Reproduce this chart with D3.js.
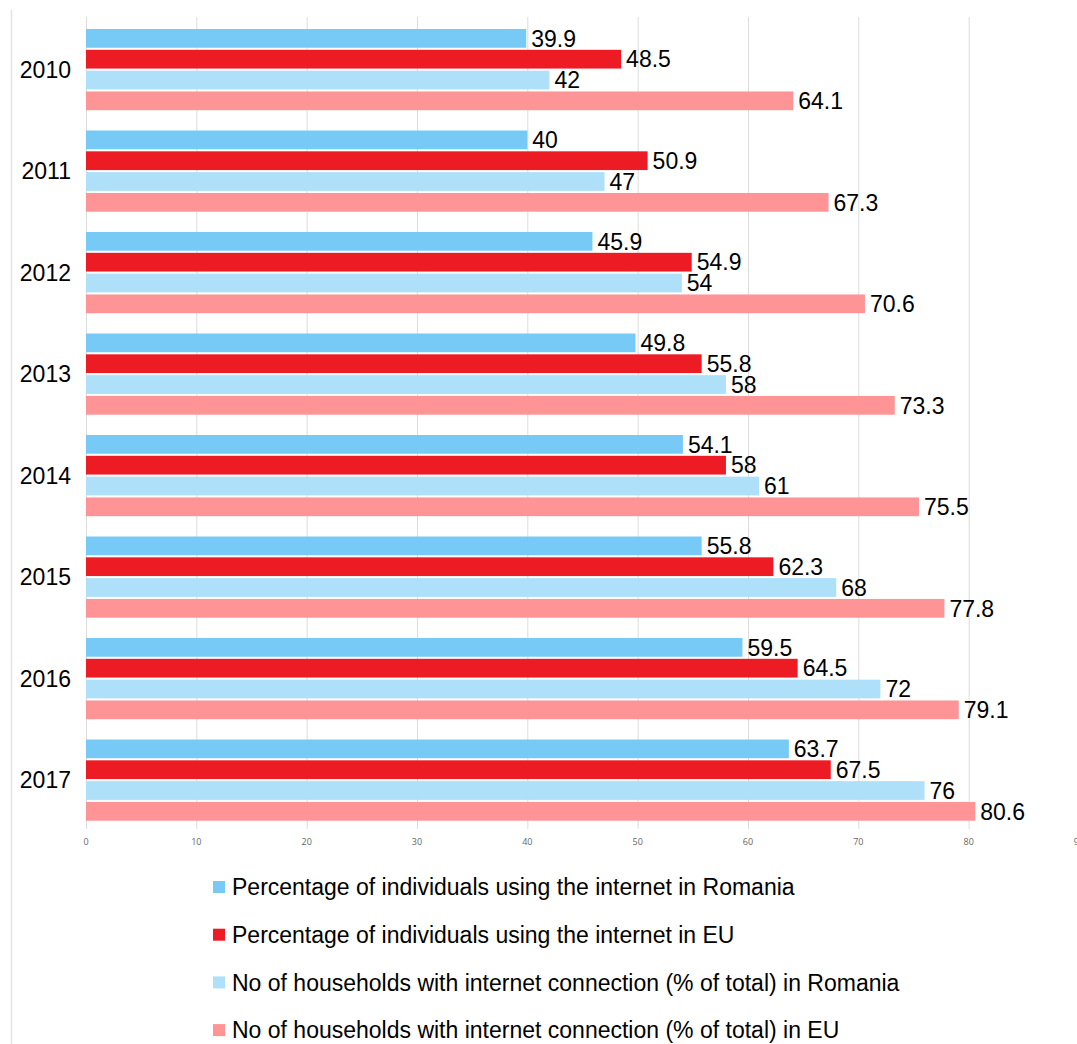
<!DOCTYPE html>
<html>
<head>
<meta charset="utf-8">
<script src="https://cdn.jsdelivr.net/npm/d3@7"></script>
<style>
  body { margin: 0; background: #fff; }
  svg { display: block; }
</style>
</head>
<body>
<svg id="chart" width="1077" height="1044"></svg>
<script>
const years = ['2010', '2011', '2012', '2013', '2014', '2015', '2016', '2017'];
const seriesNames = [
  'Percentage of individuals using the internet in Romania',
  'Percentage of individuals using the internet in EU',
  'No of households with internet connection (% of total) in Romania',
  'No of households with internet connection (% of total) in EU'
];
const roIndividuals = [39.9, 40, 45.9, 49.8, 54.1, 55.8, 59.5, 63.7];
const euIndividuals = [48.5, 50.9, 54.9, 55.8, 58, 62.3, 64.5, 67.5];
const roHouseholds = [42, 47, 54, 58, 61, 68, 72, 76];
const euHouseholds = [64.1, 67.3, 70.6, 73.3, 75.5, 77.8, 79.1, 80.6];
const xTicks = [0, 10, 20, 30, 40, 50, 60, 70, 80, 90];
const colors = ['#77c9f6', '#ed1c24', '#aee0f9', '#fe9496'];

const seriesValues = [roIndividuals, euIndividuals, roHouseholds, euHouseholds];

const svg = d3.select('#chart');

// thin border line on the left
svg.append('line')
  .attr('x1', 11.5).attr('x2', 11.5)
  .attr('y1', 10).attr('y2', 1044)
  .attr('stroke', '#e4e4e4').attr('stroke-width', 1.5);

const x = d3.scaleLinear().domain([0, 90]).range([86, 1079]);

const y = d3.scaleBand()
  .domain(years)
  .range([18.85, 830.85])
  .paddingInner(0.2)
  .paddingOuter(0.1);

const ySub = d3.scaleBand()
  .domain(d3.range(4))
  .range([0, y.bandwidth()])
  .paddingInner(0.1)
  .paddingOuter(0);

// gridlines
svg.append('g')
  .selectAll('line')
  .data(xTicks)
  .join('line')
  .attr('x1', d => x(d) + 0.5).attr('x2', d => x(d) + 0.5)
  .attr('y1', 17).attr('y2', 829)
  .attr('stroke', '#dcdcdc').attr('stroke-width', 1);

// x tick labels
svg.append('g')
  .selectAll('text')
  .data(xTicks)
  .join('text')
  .attr('x', d => x(d))
  .attr('y', 845)
  .attr('text-anchor', 'middle')
  .attr('font-family', 'Open Sans, sans-serif')
  .attr('font-size', 9)
  .attr('fill', '#666')
  .text(d => d);

// bars
const groups = svg.append('g')
  .selectAll('g')
  .data(years)
  .join('g')
  .attr('transform', d => `translate(0,${y(d)})`);

groups.selectAll('rect')
  .data((d, i) => seriesValues.map((vals, s) => ({ s, v: vals[i] })))
  .join('rect')
  .attr('x', x(0))
  .attr('y', d => ySub(d.s))
  .attr('width', d => x(d.v) - x(0))
  .attr('height', ySub.bandwidth())
  .attr('fill', d => colors[d.s]);

groups.selectAll('text.val')
  .data((d, i) => seriesValues.map((vals, s) => ({ s, v: vals[i] })))
  .join('text')
  .attr('class', 'val')
  .attr('x', d => x(d.v) + 5)
  .attr('y', d => ySub(d.s) + ySub.bandwidth() / 2)
  .attr('dy', '0.36em')
  .attr('font-family', 'Liberation Sans, Arial, sans-serif')
  .attr('font-size', 23)
  .attr('fill', '#000')
  .text(d => d.v);

// year labels
svg.append('g')
  .selectAll('text')
  .data(years)
  .join('text')
  .attr('x', 71)
  .attr('y', d => y(d) + y.bandwidth() / 2)
  .attr('dy', '0.36em')
  .attr('text-anchor', 'end')
  .attr('font-family', 'Liberation Sans, Arial, sans-serif')
  .attr('font-size', 23)
  .attr('fill', '#000')
  .text(d => d);

// legend
const legend = svg.append('g')
  .selectAll('g')
  .data(seriesNames)
  .join('g')
  .attr('transform', (d, i) => `translate(213,${887 + i * 47.7})`);

legend.append('rect')
  .attr('x', 0).attr('y', -6)
  .attr('width', 12).attr('height', 12)
  .attr('fill', (d, i) => colors[i]);

legend.append('text')
  .attr('x', 19)
  .attr('y', 0)
  .attr('dy', '0.36em')
  .attr('font-family', 'Liberation Sans, Arial, sans-serif')
  .attr('font-size', 23)
  .attr('fill', '#000')
  .text(d => d);
</script>
</body>
</html>
